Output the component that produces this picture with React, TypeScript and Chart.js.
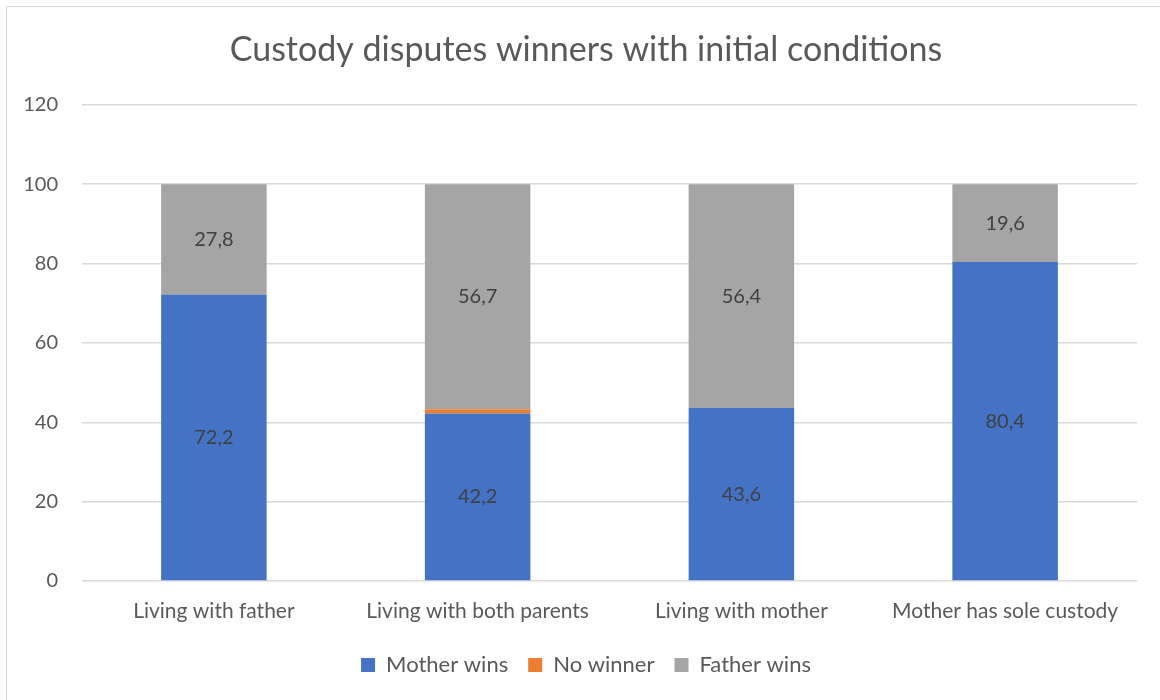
import React, { useEffect, useRef } from "react";
import { Chart, registerables } from "chart.js";

Chart.register(...registerables);

const categories = ["Living with father", "Living with both parents", "Living with mother", "Mother has sole custody"];
const motherWins = [72.2, 42.2, 43.6, 80.4];
const noWinner = [0, 1.1, 0, 0];
const fatherWins = [27.8, 56.7, 56.4, 19.6];
const yTicks = [0, 20, 40, 60, 80, 100, 120];
const titleText = "Custody disputes winners with initial conditions";

const FONT = "Lato, 'Open Sans', sans-serif";
const TEXT = "#595959";

const labelPlugin = {
  id: "segLabels",
  afterDatasetsDraw(chart: any) {
    const ctx = chart.ctx;
    ctx.save();
    ctx.font = `20px ${FONT}`;
    ctx.fillStyle = "#404040";
    ctx.textAlign = "center";
    ctx.textBaseline = "middle";
    chart.data.datasets.forEach((ds: any, di: number) => {
      if (ds.label === "No winner") return;
      const meta = chart.getDatasetMeta(di);
      meta.data.forEach((bar: any, i: number) => {
        const v = ds.data[i];
        if (!v) return;
        const y = (bar.y + bar.base) / 2;
        ctx.fillText(String(v).replace(".", ","), bar.x, y);
      });
    });
    ctx.restore();
  },
};

const shiftPlugin = {
  id: "shiftBlocks",
  afterLayout(chart: any) {
    if (chart.titleBlock) chart.titleBlock.left += 35;
    if (chart.legend) chart.legend.left += 35;
  },
};

export default function App() {
  const ref = useRef<HTMLCanvasElement>(null);
  useEffect(() => {
    if (!ref.current) return;
    const chart = new Chart(ref.current, {
      type: "bar",
      data: {
        labels: categories,
        datasets: [
          { label: "Mother wins", data: motherWins, backgroundColor: "#4472C4" },
          { label: "No winner", data: noWinner, backgroundColor: "#ED7D31" },
          { label: "Father wins", data: fatherWins, backgroundColor: "#A5A5A5" },
        ],
      },
      options: {
        animation: false,
        responsive: false,
        maintainAspectRatio: false,
        layout: { autoPadding: false, padding: { left: 0, right: 23, top: 0, bottom: 14 } },
        datasets: { bar: { categoryPercentage: 1, barPercentage: 0.4 } },
        plugins: {
          title: {
            display: true,
            text: titleText,
            color: TEXT,
            font: { family: FONT, size: 34, weight: "normal" },
            padding: { top: 30, bottom: 34 },
          },
          legend: {
            position: "bottom",
            labels: {
              color: TEXT,
              font: { family: FONT, size: 22 },
              boxWidth: 14,
              boxHeight: 14,
              padding: 20,
            },
          },
          tooltip: { enabled: false },
        },
        scales: {
          x: {
            stacked: true,
            grid: { display: false },
            border: { display: false },
            ticks: { color: TEXT, font: { family: FONT, size: 21 }, padding: 10, maxRotation: 0 },
            afterFit: (s: any) => { s.height = 53; },
          },
          y: {
            stacked: true,
            min: 0,
            max: 120,
            afterBuildTicks: (s: any) => { s.ticks = yTicks.map((v) => ({ value: v })); },
            grid: { color: "#d9d9d9", lineWidth: 1.5, drawTicks: false },
            border: { display: false },
            ticks: { color: TEXT, font: { family: FONT, size: 20 }, padding: 24 },
            afterFit: (s: any) => { s.width = 82; },
          },
        },
      },
      plugins: [labelPlugin, shiftPlugin],
    });
    return () => chart.destroy();
  }, []);
  return (
    <div>
      <div style={{ position: "fixed", left: 6, top: 6, width: 1200, height: 800, border: "1.5px solid #d9d9d9", boxSizing: "border-box" }} />
      <canvas ref={ref} width={1160} height={700} style={{ position: "fixed", left: 0, top: 0, width: 1160, height: 700 }} />
    </div>
  );
}
